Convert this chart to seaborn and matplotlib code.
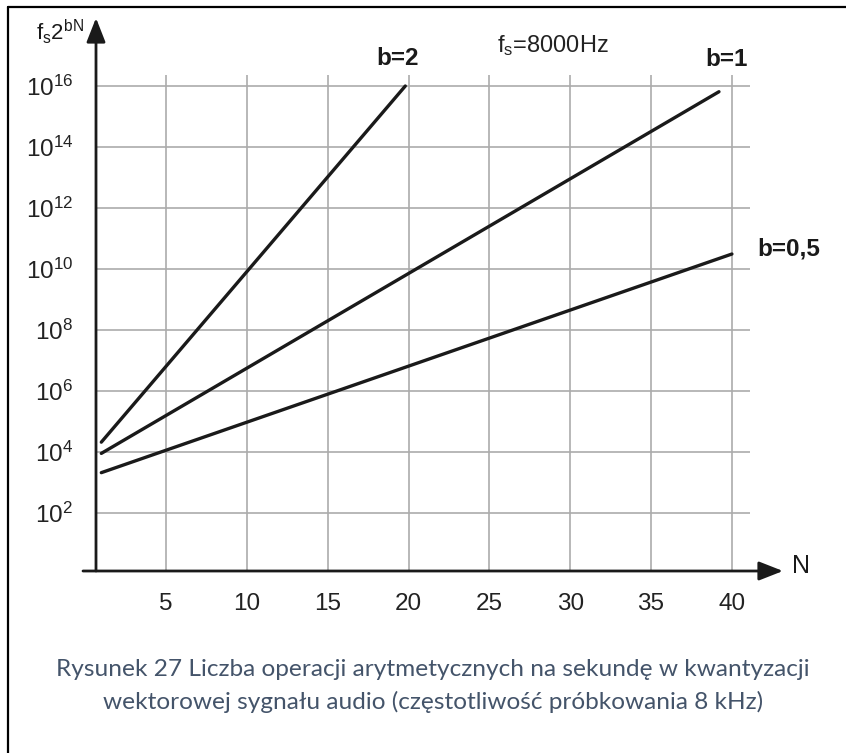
import numpy as np
import pandas as pd
import matplotlib
matplotlib.use("Agg")
import matplotlib.pyplot as plt
from matplotlib.lines import Line2D
import seaborn as sns

# ---- data ----
b_values = ["2", "1", "0,5"]
N_b2 = [1.0, 19.8]
y_b2 = [2.1e4, 1.0e16]
N_b1 = [1.0, 39.2]
y_b1 = [9.0e3, 6.5e15]
N_b05 = [1.0, 40.0]
y_b05 = [2.1e3, 3.1e10]

x_ticks = [5, 10, 15, 20, 25, 30, 35, 40]
y_tick_exps = [2, 4, 6, 8, 10, 12, 14, 16]
y_tick_labels = [r"$\mathregular{10^{%d}}$" % e for e in y_tick_exps]

caption_lines = ["Rysunek 27 Liczba operacji arytmetycznych na sekundę w kwantyzacji",
                 "wektorowej sygnału audio (częstotliwość próbkowania 8 kHz)"]

df = pd.DataFrame({
    "N": N_b2 + N_b1 + N_b05,
    "val": y_b2 + y_b1 + y_b05,
    "b": [b_values[0]] * len(N_b2) + [b_values[1]] * len(N_b1) + [b_values[2]] * len(N_b05),
})

# ---- style ----
sns.set_style("white")
plt.rcParams["font.family"] = ["Liberation Sans", "DejaVu Sans"]
plt.rcParams["mathtext.fontset"] = "custom"
plt.rcParams["mathtext.rm"] = "Liberation Sans"
plt.rcParams["mathtext.it"] = "Liberation Sans"
plt.rcParams["mathtext.bf"] = "Liberation Sans:bold"

W, H = 846, 753
fig = plt.figure(figsize=(W / 100, H / 100), dpi=100)

def fx(px):
    return px / W

def fy(py):
    return 1 - py / H

ax_l, ax_r, ax_t, ax_b = 96, 783, 18, 571
ax = fig.add_axes([fx(ax_l), fy(ax_b), fx(ax_r) - fx(ax_l), fy(ax_t) - fy(ax_b)])

xmin, xmax = 0.671, 43.16
ymin, ymax = 10 ** 0.098, 10 ** 18.23
ax.set_yscale("log")
ax.set_xlim(xmin, xmax)
ax.set_ylim(ymin, ymax)

grid_col = "#ababab"
grid_top = 10 ** 16.36
grid_right = 41.1
ax.hlines([10.0 ** e for e in y_tick_exps], xmin, grid_right, colors=grid_col, lw=1.2, zorder=1)
ax.vlines(x_ticks, ymin, grid_top, colors=grid_col, lw=1.2, zorder=1)

sns.lineplot(data=df, x="N", y="val", hue="b", units="b", estimator=None,
             palette={b: "#1a1a1a" for b in b_values}, lw=2.4, legend=False, ax=ax, zorder=3)

for s in ax.spines.values():
    s.set_visible(False)

ax.set_xlabel("")
ax.set_ylabel("")
ax.set_xticks(x_ticks)
ax.set_xticklabels([str(t) for t in x_ticks])
ax.set_yticks([10.0 ** e for e in y_tick_exps])
ax.set_yticklabels(y_tick_labels)
ax.minorticks_off()
ax.tick_params(axis="x", length=10.8, width=1.6, color="#1a1a1a", labelsize=17.5, pad=5, labelcolor="#222222")
ax.tick_params(axis="y", length=9.4, width=1.6, color="#1a1a1a", labelsize=17.5, pad=7, labelcolor="#222222")

# axes with arrow heads
ax.annotate("", xy=(1.0, 0.0), xytext=(-13 / (ax_r - ax_l), 0.0), xycoords="axes fraction",
            arrowprops=dict(arrowstyle="-|>,head_length=1.4,head_width=0.55", mutation_scale=10.5,
                            lw=2.0, color="#1a1a1a", shrinkA=0, shrinkB=0), annotation_clip=False)
ax.annotate("", xy=(0.0, 1.0), xytext=(0.0, 0.0), xycoords="axes fraction",
            arrowprops=dict(arrowstyle="-|>,head_length=1.4,head_width=0.55", mutation_scale=10.5,
                            lw=2.0, color="#1a1a1a", shrinkA=0, shrinkB=0), annotation_clip=False)

# labels
txt_col = "#1a1a1a"
fig.text(fx(36), fy(40), r"f$_\mathregular{s}$2$^\mathregular{bN}$", fontsize=16, color=txt_col,
         ha="left", va="baseline")
fig.text(fx(801), fy(566), "N", fontsize=18, color=txt_col, ha="center", va="center")
fig.text(fx(497), fy(52), r"f$_\mathregular{s}$=8000Hz", fontsize=17, color="#222222",
         ha="left", va="baseline")
fig.text(fx(398), fy(65), "b=2", fontsize=17.5, fontweight="bold", color=txt_col, ha="center", va="baseline")
fig.text(fx(727), fy(66), "b=1", fontsize=17.5, fontweight="bold", color=txt_col, ha="center", va="baseline")
fig.text(fx(757), fy(256), "b=0,5", fontsize=17.5, fontweight="bold", color=txt_col, ha="left", va="baseline")

# caption
cap_col = "#44546A"
fig.text(fx(433), fy(676), caption_lines[0], fontsize=17.6, color=cap_col, ha="center", va="baseline",
         family=["Lato", "DejaVu Sans"])
fig.text(fx(433), fy(709), caption_lines[1], fontsize=17.6, color=cap_col, ha="center", va="baseline",
         family=["Lato", "DejaVu Sans"])

# frame (top and left edges)
fig.add_artist(Line2D([fx(8), fx(846)], [fy(7), fy(7)], transform=fig.transFigure, color="black", lw=1.6))
fig.add_artist(Line2D([fx(8), fx(8)], [fy(7), fy(753)], transform=fig.transFigure, color="black", lw=1.6))

fig.savefig("out.png", dpi=100, facecolor="white")
